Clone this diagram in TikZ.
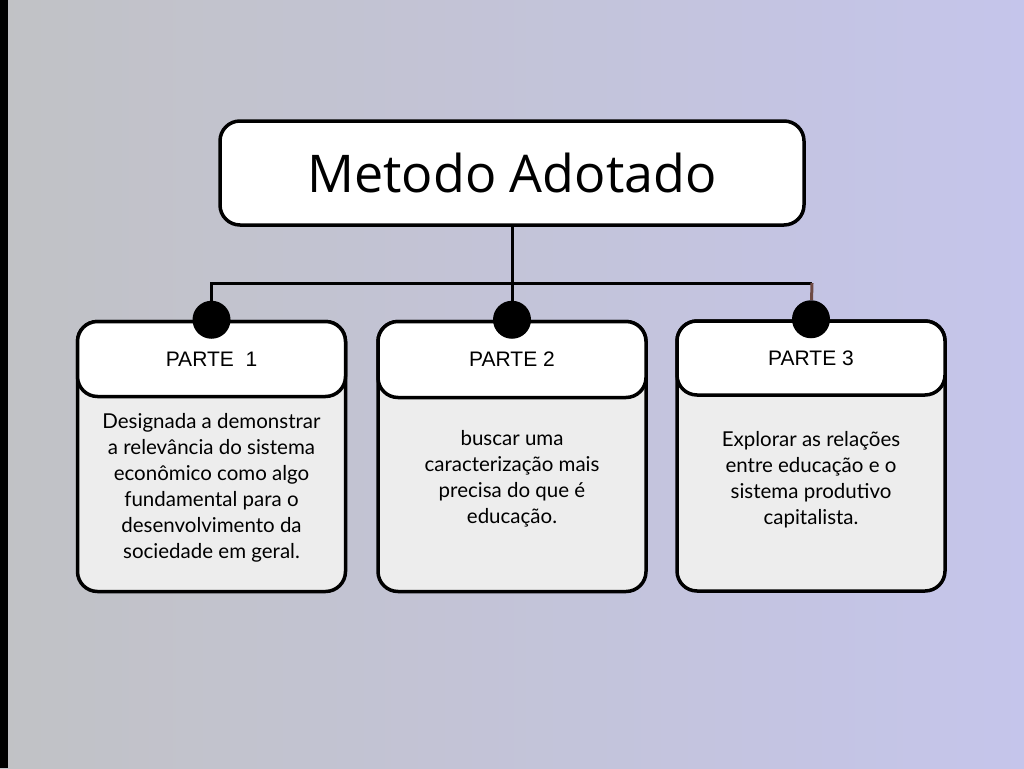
\documentclass[tikz,border=0pt]{standalone}
\usepackage{fontspec}
\setmainfont{Lato}
\newfontfamily\titlefont{Open Sans}
\newfontfamily\headfont{Liberation Sans}
\usetikzlibrary{positioning}
\definecolor{bgleft}{RGB}{193,194,197}
\definecolor{bgright}{RGB}{197,197,235}
\definecolor{boxgray}{RGB}{237,237,237}
\definecolor{dropbrown}{RGB}{110,74,68}
\tikzset{
x=1pt, y=-1pt, % pixel coordinates, y downwards
wire/.style={line width=3pt, black}, % the connectors
titlebox/.style={draw=black, line width=3.5pt, fill=white, rounded corners=20pt,
  minimum width=584pt, minimum height=104pt, font=\titlefont\fontsize{52}{56}\selectfont},
partbox/.style={draw=black, line width=3.5pt, fill=boxgray, rounded corners=20pt,
  minimum width=268pt, minimum height=270pt},
headbox/.style={draw=black, line width=3.5pt, fill=white, rounded corners=20pt,
  minimum width=268pt, minimum height=75pt, anchor=north, font=\headfont\fontsize{21}{24}\selectfont},
parttext/.style={align=center, font=\fontsize{20.5}{26}\selectfont},
dot/.style={circle, fill=black, minimum size=38pt, inner sep=0pt},
}
\begin{document}
\begin{tikzpicture}
  % background
  \shade[left color=bgleft, right color=bgright] (0,0) rectangle (1024,768);
  \fill[black] (0,0) rectangle (8,768);

  \node[titlebox] (title) at (512,173) {Metodo Adotado};

  \node[partbox] (part1) at (211.5,456.5) {};
  \node[partbox] (part2) at (512,456.5) {};
  \node[partbox] (part3) at (811,456) {};

  \node[headbox] (head1) at (part1.north) {PARTE\ \ 1};
  \node[headbox, minimum height=76pt] (head2) at (part2.north) {PARTE 2};
  \node[headbox, minimum height=74pt] (head3) at (part3.north) {PARTE 3};

  \node[parttext] (text1) at (211.5,488) {Designada a demonstrar\\a relevância do sistema\\econômico como algo\\fundamental para o\\desenvolvimento da\\sociedade em geral.};
  \node[parttext] (text2) at (512,479) {buscar uma\\caracterização mais\\precisa do que é\\educação.};
  \node[parttext] (text3) at (811,480) {Explorar as relações\\entre educação e o\\sistema produtivo\\capitalista.};

  \node[dot] (dot1) at (head1.north) {};
  \node[dot] (dot2) at (head2.north) {};
  \node[dot] (dot3) at (head3.north) {};

  \coordinate (bus) at (812,283);
  \draw[wire] (title) -- (dot2);
  \draw[wire] (dot1) |- (bus);
  \draw[wire, dropbrown] (bus) -- (dot3);
\end{tikzpicture}
\end{document}
